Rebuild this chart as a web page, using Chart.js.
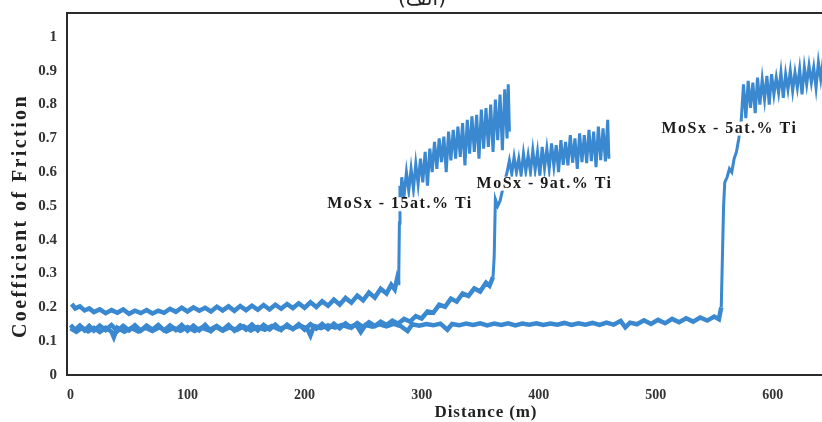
<!DOCTYPE html>
<html>
<head>
<meta charset="utf-8">
<script src="https://cdn.jsdelivr.net/npm/chart.js@4.4.1/dist/chart.umd.min.js"></script>
<style>
html, body { margin: 0; padding: 0; overflow: hidden; background: #fff; }
#wrap { position: relative; width: 905px; height: 422px; }
#tag { position: absolute; top: -14px; left: 397px; width: 50px; text-align: center; font: 20px 'DejaVu Sans', sans-serif; color: #222; }
</style>
</head>
<body>
<div id="wrap">
  <canvas id="chart" width="905" height="422"></canvas>
  <div id="tag">(الف)</div>
</div>
<script>
// tick labels
const distTicks = [0, 100, 200, 300, 400, 500, 600];
const cofTicks = [0, 0.1, 0.2, 0.3, 0.4, 0.5, 0.6, 0.7, 0.8, 0.9, 1];

// MoSx - 15at.% Ti
const dist15 = [1, 4, 8, 12, 16, 20, 25, 30, 35, 40, 45, 50, 55, 60, 65, 70, 75, 80, 85, 90, 95, 100,
  105, 110, 115, 120, 125, 130, 135, 140, 145, 150, 155, 160, 165, 170, 175, 180, 185, 190, 195, 200,
  205, 210, 215, 220, 225, 230, 235, 240, 245, 250, 255, 260, 265, 270, 274, 277, 279, 280, 280.5, 281, 281.5, 282,
  283, 285, 287, 289, 291, 293, 295, 297, 299, 301, 303, 305, 307, 309, 311, 313, 315, 317, 319, 321,
  323, 325, 327, 329, 331, 333, 335, 337, 339, 341, 343, 345, 347, 349, 351, 353, 355, 357, 359, 361,
  363, 365, 367, 369, 371, 373, 374, 375];
const cof15 = [0.21, 0.197, 0.203, 0.191, 0.197, 0.186, 0.194, 0.183, 0.192, 0.184, 0.194, 0.181, 0.19, 0.183, 0.192, 0.182, 0.19, 0.184, 0.196, 0.187, 0.199, 0.188,
  0.2, 0.19, 0.199, 0.188, 0.202, 0.191, 0.203, 0.19, 0.204, 0.192, 0.205, 0.193, 0.207, 0.194, 0.208, 0.196, 0.21, 0.198, 0.212, 0.199,
  0.215, 0.201, 0.218, 0.205, 0.223, 0.208, 0.228, 0.214, 0.235, 0.221, 0.244, 0.229, 0.255, 0.241, 0.267, 0.253, 0.284, 0.27, 0.3, 0.45, 0.56, 0.5,
  0.585, 0.53, 0.6, 0.545, 0.61, 0.55, 0.625, 0.565, 0.64, 0.57, 0.66, 0.56, 0.67, 0.6, 0.69, 0.61, 0.7, 0.63, 0.705, 0.6,
  0.72, 0.635, 0.725, 0.64, 0.735, 0.645, 0.745, 0.62, 0.755, 0.655, 0.765, 0.66, 0.77, 0.64, 0.785, 0.67, 0.79, 0.675, 0.8, 0.66,
  0.815, 0.695, 0.83, 0.665, 0.845, 0.7, 0.86, 0.72];

// MoSx - 9at.% Ti
const dist9 = [0, 4, 8, 12, 16, 20, 25, 30, 35, 40, 45, 50, 55, 60, 65, 70, 75, 80, 85, 90, 95, 100,
  105, 110, 115, 120, 125, 130, 135, 140, 145, 150, 155, 160, 165, 170, 175, 180, 185, 190, 195, 200,
  205, 210, 215, 220, 225, 230, 235, 240, 245, 250, 255, 260, 265, 270, 275, 280, 285, 290, 295, 300,
  305, 310, 315, 320, 325, 330, 335, 340, 345, 350, 355, 358, 361, 362, 363, 365, 367, 370, 373,
  375, 377, 379, 381, 383, 385, 387, 389, 391, 393, 395, 397, 399, 401, 403, 405, 407, 409, 411, 413,
  415, 417, 419, 421, 423, 425, 427, 429, 431, 433, 435, 437, 439, 441, 443, 445, 447, 449, 451, 453,
  455, 457, 459, 460];
const cof9 = [0.148, 0.134, 0.146, 0.132, 0.145, 0.131, 0.146, 0.133, 0.148, 0.13, 0.145, 0.132, 0.147, 0.131, 0.146, 0.134, 0.148, 0.132, 0.147, 0.133, 0.148, 0.131,
  0.146, 0.132, 0.148, 0.13, 0.145, 0.133, 0.148, 0.131, 0.147, 0.134, 0.149, 0.132, 0.148, 0.135, 0.149, 0.133, 0.149, 0.136, 0.15, 0.134,
  0.15, 0.137, 0.151, 0.136, 0.152, 0.138, 0.153, 0.14, 0.154, 0.142, 0.156, 0.145, 0.158, 0.148, 0.161, 0.152, 0.166, 0.158, 0.174, 0.167,
  0.188, 0.184, 0.208, 0.202, 0.226, 0.217, 0.241, 0.234, 0.256, 0.247, 0.273, 0.264, 0.29, 0.35, 0.52, 0.5, 0.515, 0.56, 0.6,
  0.635, 0.595, 0.645, 0.6, 0.64, 0.592, 0.655, 0.603, 0.65, 0.6, 0.665, 0.607, 0.66, 0.59, 0.675, 0.612, 0.67, 0.61, 0.685, 0.618,
  0.68, 0.6, 0.695, 0.622, 0.69, 0.62, 0.71, 0.628, 0.7, 0.61, 0.715, 0.63, 0.71, 0.627, 0.725, 0.633, 0.72, 0.615, 0.735, 0.636,
  0.73, 0.632, 0.755, 0.64];

// MoSx - 5at.% Ti
const dist5 = [0, 5, 10, 15, 20, 25, 30, 35, 37, 40, 46, 52, 58, 64, 70, 76, 82, 88, 94, 100,
  106, 112, 118, 124, 130, 136, 142, 148, 154, 160, 166, 172, 178, 184, 190, 196, 202, 205, 208, 214,
  220, 226, 232, 238, 244, 248, 252, 258, 264, 270, 276, 282, 288, 292, 298, 304, 310, 316, 322, 326,
  332, 338, 344, 350, 356, 362, 368, 374, 380, 386, 392, 398, 404, 410, 416, 422, 428, 434, 440, 446,
  452, 458, 464, 470, 474, 478, 484, 490, 496, 502, 508, 514, 520, 526, 532, 538, 544, 550, 554, 556,
  557, 558, 559, 561, 563, 565, 567, 569, 571, 573,
  575, 577, 579, 581, 583, 585, 587, 589, 591, 593, 595, 597, 599, 601, 603, 605, 607, 609, 611, 613,
  615, 617, 619, 621, 623, 625, 627, 629, 631, 633, 635, 637, 639, 641, 643, 645];
const cof5 = [0.138, 0.128, 0.14, 0.129, 0.139, 0.127, 0.14, 0.128, 0.112, 0.14, 0.128, 0.139, 0.129, 0.14, 0.13, 0.141, 0.129, 0.139, 0.131, 0.142,
  0.13, 0.14, 0.132, 0.143, 0.131, 0.141, 0.133, 0.144, 0.132, 0.142, 0.134, 0.145, 0.135, 0.144, 0.137, 0.146, 0.138, 0.117, 0.145, 0.139,
  0.147, 0.14, 0.148, 0.141, 0.149, 0.127, 0.148, 0.143, 0.15, 0.144, 0.151, 0.145, 0.13, 0.15, 0.146, 0.151, 0.147, 0.152, 0.134, 0.151,
  0.147, 0.152, 0.148, 0.153, 0.147, 0.152, 0.148, 0.153, 0.147, 0.152, 0.149, 0.153, 0.148, 0.152, 0.149, 0.154, 0.148, 0.153, 0.149, 0.154,
  0.148, 0.155, 0.149, 0.16, 0.141, 0.155, 0.15, 0.162, 0.151, 0.163, 0.153, 0.166, 0.156, 0.168, 0.158, 0.17, 0.161, 0.173, 0.165, 0.2,
  0.35, 0.5, 0.57, 0.585, 0.61, 0.6, 0.64, 0.66, 0.7, 0.75,
  0.86, 0.76, 0.87, 0.79, 0.865, 0.775, 0.88, 0.8, 0.875, 0.815, 0.885, 0.8, 0.89, 0.83, 0.88, 0.835, 0.895, 0.82, 0.89, 0.845,
  0.9, 0.84, 0.895, 0.85, 0.905, 0.83, 0.91, 0.86, 0.915, 0.865, 0.91, 0.85, 0.925, 0.875, 0.93, 0.88];

// curve labels (anchored in data units)
const labelText = ['MoSx - 15at.% Ti', 'MoSx - 9at.% Ti', 'MoSx - 5at.% Ti'];
const labelDist = [281.5, 405, 563];
const labelCof = [0.505, 0.566, 0.729];

const blue = '#3a88d0';
const serif = '"Liberation Serif", "Times New Roman", serif';

function pairs(xs, ys) {
  return xs.map((v, i) => ({ x: v, y: ys[i] }));
}

// frame top line, axis titles and curve labels
const decorations = {
  id: 'decorations',
  afterDatasetsDraw(chart) {
    const { ctx, chartArea, scales } = chart;
    ctx.save();
    ctx.strokeStyle = '#2b2b2b';
    ctx.lineWidth = 2;
    ctx.beginPath();
    ctx.moveTo(chartArea.left, chartArea.top);
    ctx.lineTo(chartArea.right, chartArea.top);
    ctx.stroke();

    ctx.textAlign = 'center';
    ctx.textBaseline = 'middle';

    ctx.font = 'bold 16px ' + serif;
    ctx.letterSpacing = '1.5px';
    labelText.forEach((t, i) => {
      const px = scales.x.getPixelForValue(labelDist[i]);
      const py = scales.y.getPixelForValue(labelCof[i]);
      const w = ctx.measureText(t).width;
      ctx.fillStyle = '#fff';
      ctx.fillRect(px - w / 2 - 2, py - 7, w + 4, 14);
      ctx.fillStyle = '#1a1a1a';
      ctx.fillText(t, px, py);
    });

    ctx.fillStyle = '#222';
    ctx.font = 'bold 17px ' + serif;
    ctx.letterSpacing = '0.9px';
    ctx.fillText('Distance (m)', (chartArea.left + chartArea.right) / 2, 413);

    ctx.font = 'bold 20px ' + serif;
    ctx.letterSpacing = '2.4px';
    ctx.translate(21, 216);
    ctx.rotate(-Math.PI / 2);
    ctx.fillText('Coefficient of Friction', 0, 0);
    ctx.restore();
  }
};

// the low, steady part of each run is drawn as a thicker band
const lineSet = (xs, ys) => ({
  data: pairs(xs, ys),
  borderColor: blue,
  borderWidth: 3,
  segment: {
    borderWidth: c => (c.p0.parsed.y < 0.3 && c.p1.parsed.y < 0.3 ? 4.5 : 3)
  },
  pointRadius: 0,
  tension: 0,
  fill: false
});

new Chart(document.getElementById('chart'), {
  type: 'line',
  data: {
    datasets: [lineSet(dist15, cof15), lineSet(dist9, cof9), lineSet(dist5, cof5)]
  },
  options: {
    responsive: false,
    animation: false,
    layout: { padding: { top: 13, right: 0, bottom: 0, left: 0 } },
    plugins: { legend: { display: false }, tooltip: { enabled: false } },
    scales: {
      x: {
        type: 'linear',
        min: -3,
        max: 713,
        afterBuildTicks: s => { s.ticks = distTicks.map(v => ({ value: v })); },
        afterFit: s => { s.height = 47; s.paddingLeft = 0; s.paddingRight = 0; },
        grid: { display: false, drawTicks: false },
        border: { display: true, color: '#2b2b2b', width: 2 },
        ticks: { padding: 12, color: '#333', font: { family: serif, size: 14, weight: 'bold' }, maxRotation: 0 }
      },
      y: {
        min: 0,
        max: 1.071,
        afterBuildTicks: s => { s.ticks = cofTicks.map(v => ({ value: v })); },
        afterFit: s => { s.width = 67; s.paddingTop = 0; s.paddingBottom = 0; },
        grid: { display: false, drawTicks: false },
        border: { display: true, color: '#2b2b2b', width: 2 },
        ticks: { padding: 10, color: '#333', font: { family: serif, size: 15, weight: 'bold' },
          callback: v => String(Math.round(v * 10) / 10) }
      }
    }
  },
  plugins: [decorations]
});
</script>
</body>
</html>
